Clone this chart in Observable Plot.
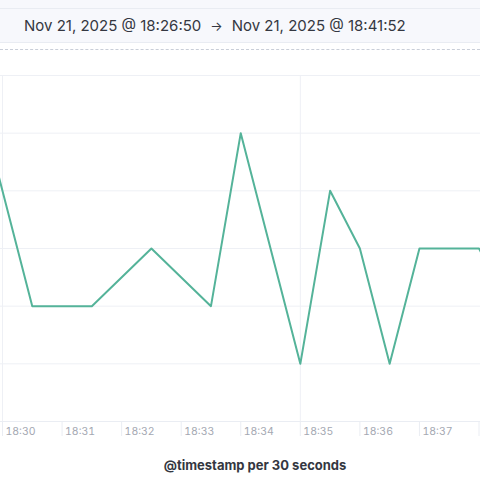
<!DOCTYPE html>
<html>
<head>
<meta charset="utf-8">
<script src="https://cdn.jsdelivr.net/npm/d3@7"></script>
<script src="https://cdn.jsdelivr.net/npm/@observablehq/plot@0.6"></script>
<style>
  html, body { margin: 0; padding: 0; background: #ffffff; width: 480px; height: 482px; overflow: hidden; font-family: Inter, "Noto Sans", sans-serif; }
  #top { position: absolute; left: 0; top: 0; width: 480px; height: 8px; background: #f7f8fc; }
  #band { position: absolute; left: 0; top: 8px; width: 480px; height: 33px; background: #f7f8fc; border-top: 1px solid #e9ecf2; border-bottom: 1px solid #e9ecf2; }
  #range { position: absolute; left: 24px; top: 16px; font-size: 15px; color: #343741; white-space: nowrap; }
  #range .arrow { margin: 0 9px 0 9px; font-size: 13px; }
  #dash { position: absolute; left: 0; top: 49px; width: 480px; height: 0; border-top: 1px dashed #c9ced8; }
  #chart { position: absolute; left: 0; top: 60px; }
  #xtitle { position: absolute; left: 0; top: 457px; width: 510px; text-align: center; font-size: 13px; font-weight: 700; color: #343741; }
</style>
</head>
<body>
<div id="top"></div>
<div id="band"></div>
<div id="range"><span>Nov 21, 2025 @ 18:26:50</span><span class="arrow">→</span><span>Nov 21, 2025 @ 18:41:52</span></div>
<div id="dash"></div>
<div id="chart"></div>
<div id="xtitle">@timestamp per 30 seconds</div>
<script>
// Data (bucket start times, UTC clock labels) and counts
const times  = ["18:29:30","18:30:30","18:31:30","18:32:30","18:33:30","18:34:00","18:35:00","18:35:30","18:36:00","18:36:30","18:37:00","18:38:00","18:38:30"];
const values = [6, 2, 2, 3, 2, 5, 1, 4, 3, 1, 3, 3, 2];
const tickTimes = ["18:30","18:31","18:32","18:33","18:34","18:35","18:36","18:37","18:38"];
const tickLabelTimes = ["18:30","18:31","18:32","18:33","18:34","18:35","18:36","18:37"];
const vGridTimes = ["18:30","18:35"];
const yGridValues = [1, 2, 3, 4, 5, 6];

function toDate(hms) {
  const [h, m, s] = hms.split(":").map(Number);
  const sec = s || 0;
  return new Date(Date.UTC(2025, 10, 21, h, m, Math.floor(sec), Math.round((sec % 1) * 1000)));
}
const data = times.map((t, i) => ({ t: toDate(t), v: values[i] }));

const chart = Plot.plot({
  width: 480,
  height: 422,
  marginLeft: 0,
  marginRight: 0,
  marginTop: 15,
  marginBottom: 61,
  style: { fontFamily: "Inter, 'Noto Sans', sans-serif", background: "transparent" },
  x: { type: "utc", domain: [toDate("18:29:57.99"), toDate("18:38:01.5")] },
  y: { domain: [0, 6] },
  marks: [
    Plot.gridY(yGridValues, { stroke: "#eef0f5", strokeOpacity: 1, strokeWidth: 1 }),
    Plot.gridX(vGridTimes.map(toDate), { stroke: "#eef0f5", strokeOpacity: 1, strokeWidth: 1, y1: 0, y2: 6 }),
    Plot.ruleY([0], { stroke: "#eaedf3", strokeWidth: 1 }),
    Plot.axisX(tickTimes.map(toDate), {
      tickSize: 15,
      text: null,
      stroke: "#eaedf3",
      label: null
    }),
    Plot.axisX(tickLabelTimes.map(toDate), {
      tickSize: 0,
      tickPadding: 6,
      textAnchor: "start",
      dx: 3,
      fill: "#a4a8b2",
      fontSize: 10.5,
      tickFormat: d3.utcFormat("%H:%M"),
      label: null
    }),
    Plot.axisY({ ticks: [], label: null }),
    Plot.line(data, { x: "t", y: "v", stroke: "#54b399", strokeWidth: 2, clip: true })
  ]
});
document.getElementById("chart").appendChild(chart);
</script>
</body>
</html>
